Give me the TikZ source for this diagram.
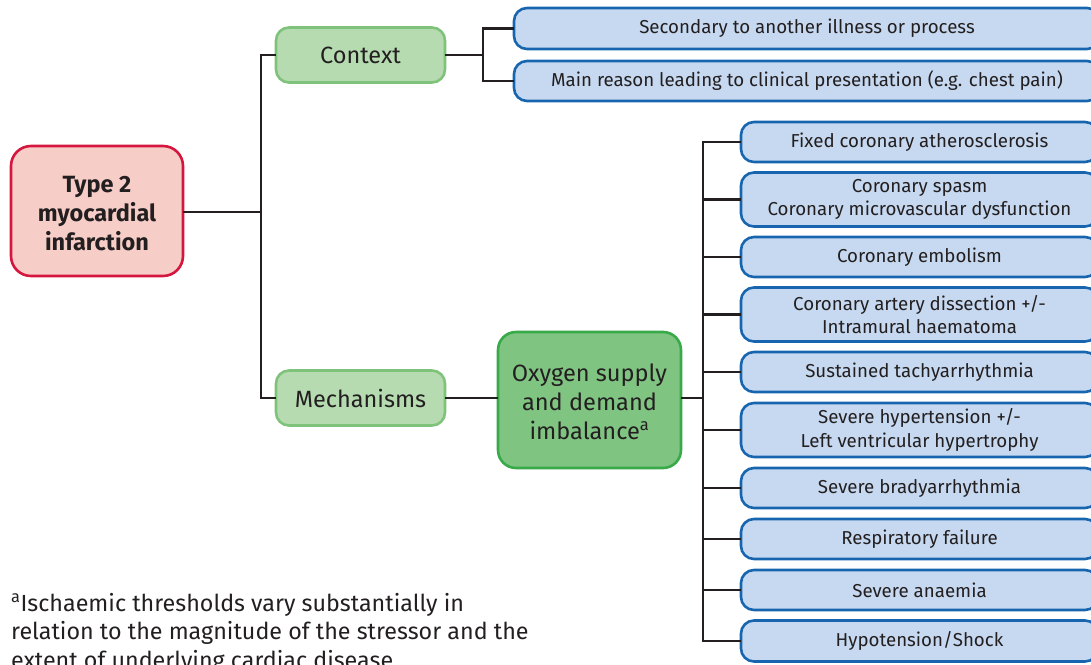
\documentclass[tikz,border=0pt]{standalone}
\usepackage{fontspec}
\setmainfont{Fira Sans}
\definecolor{txt}{HTML}{231F20}
\definecolor{redb}{HTML}{D5173F}
\definecolor{redf}{HTML}{F7CEC7}
\definecolor{lgf}{HTML}{B6DBB1}
\definecolor{lgb}{HTML}{7FC27A}
\definecolor{dgf}{HTML}{80C482}
\definecolor{dgb}{HTML}{38AA4A}
\definecolor{blf}{HTML}{C6D9F0}
\definecolor{blb}{HTML}{1765AF}
\tikzset{
  box/.style={draw, line width=2.6pt, inner sep=0pt, align=center, text=txt},
  bluebox/.style={box, fill=blf, draw=blb, rounded corners=13pt, font=\fontsize{18.7}{23.5}\selectfont},
  lgbox/.style={box, fill=lgf, draw=lgb, rounded corners=13pt, minimum width=169pt, minimum height=55pt, font=\fontsize{23.5}{29}\selectfont},
  conn/.style={draw=txt, line width=2.8pt, line join=miter, line cap=rect},
  label text/.style={inner sep=0pt, align=center, text=txt},
}
\begin{document}
\begin{tikzpicture}[x=1pt,y=-1pt]
\useasboundingbox (0,0) rectangle (1091,664);
\clip (0,0) rectangle (1091,664);
% main nodes
\node[box, fill=redf, draw=redb, rounded corners=20pt, minimum width=172pt, minimum height=130pt] (t2) at (97,211) {};
\node[label text, font=\bfseries\fontsize{23.5}{29}\selectfont] (t2text) at (97,214) {Type 2\\myocardial\\infarction};
\node[lgbox] (ctx) at (360.5,55) {Context};
\node[lgbox] (mech) at (360.5,398) {Mechanisms};
\node[box, fill=dgf, draw=dgb, rounded corners=18pt, minimum width=183pt, minimum height=136pt] (ox) at (589.5,400) {};
\node[label text, font=\fontsize{23.6}{29}\selectfont] (oxtext) at (589.5,401.5) {Oxygen supply\\and demand\\imbalance\textsuperscript{a}};
% context children
\node[bluebox, minimum width=586pt, minimum height=41pt] (c1) at (807,28.5) {Secondary to another illness or process};
\node[bluebox, minimum width=586pt, minimum height=40pt] (c2) at (807,81) {Main reason leading to clinical presentation (e.g. chest pain)};
% mechanism children
\node[bluebox, minimum width=357pt, minimum height=40pt] (b1) at (919.5,142) {Fixed coronary atherosclerosis};
\node[bluebox, minimum width=357pt, minimum height=54pt] (b2) at (919.5,199.5) {Coronary spasm\\Coronary microvascular dysfunction};
\node[bluebox, minimum width=357pt, minimum height=40pt] (b3) at (919.5,257) {Coronary embolism};
\node[bluebox, minimum width=357pt, minimum height=54pt] (b4) at (919.5,314.5) {Coronary artery dissection +/-\\Intramural haematoma};
\node[bluebox, minimum width=357pt, minimum height=40pt] (b5) at (919.5,372) {Sustained tachyarrhythmia};
\node[bluebox, minimum width=357pt, minimum height=54pt] (b6) at (919.5,430) {Severe hypertension +/-\\Left ventricular hypertrophy};
\node[bluebox, minimum width=357pt, minimum height=40pt] (b7) at (919.5,488) {Severe bradyarrhythmia};
\node[bluebox, minimum width=357pt, minimum height=40pt] (b8) at (919.5,539) {Respiratory failure};
\node[bluebox, minimum width=357pt, minimum height=40pt] (b9) at (919.5,590) {Severe anaemia};
\node[bluebox, minimum width=357pt, minimum height=41pt] (b10) at (919.5,641) {Hypotension/Shock};
% footnote
\node[anchor=north west, inner sep=0pt, align=left, text=txt, font=\fontsize{23.3}{28.5}\selectfont] (fn) at (11,593) {\textsuperscript{a}Ischaemic thresholds vary substantially in\\relation to the magnitude of the stressor and the\\extent of underlying cardiac disease};
% connectors
\coordinate (j1) at (261,212);
\coordinate (j2) at (483,55);
\coordinate (j3) at (703,398);
\draw[conn] (t2.east |- j1) -- (j1);
\draw[conn] (ctx.west) -- (ctx.west -| j1) -- (mech.west -| j1) -- (mech.west);
\draw[conn] (ctx.east) -- (ctx.east -| j2);
\draw[conn] (c1.west) -- (c1.west -| j2) -- (c2.west -| j2) -- (c2.west);
\draw[conn] (mech.east) -- (ox.west |- mech.east);
\draw[conn] (ox.east |- j3) -- (j3);
\draw[conn] (b1.west -| j3) -- (b10.west -| j3);
\foreach \i in {1,...,10} \draw[conn] (b\i.west -| j3) -- (b\i.west);
\end{tikzpicture}
\end{document}
